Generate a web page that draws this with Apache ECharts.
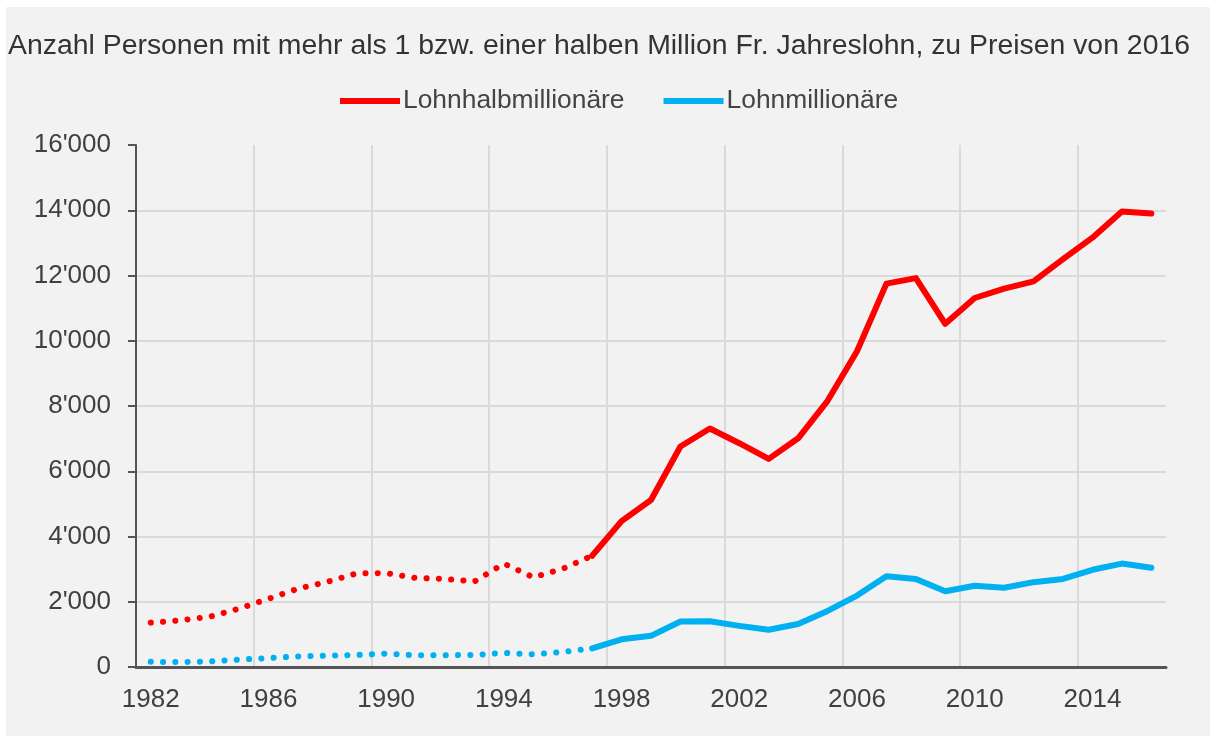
<!DOCTYPE html>
<html>
<head>
<meta charset="utf-8">
<script src="https://cdn.jsdelivr.net/npm/echarts@6/dist/echarts.min.js"></script>
<style>
    html, body { margin: 0; padding: 0; background: #ffffff; }
    #chart { position: absolute; left: 6px; top: 7px; width: 1204px; height: 729px; background: #f2f2f2; }
</style>
</head>
<body>
<div id="chart"></div>
<script>
// Jahre (Kategorien)
var years = ['1982','1983','1984','1985','1986','1987','1988','1989','1990','1991','1992','1993',
    '1994','1995','1996','1997','1998','1999','2000','2001','2002','2003','2004','2005',
    '2006','2007','2008','2009','2010','2011','2012','2013','2014','2015','2016'];

// Lohnhalbmillionäre
var halbMio = [1360, 1430, 1540, 1790, 2090, 2400, 2610, 2870, 2880, 2730, 2700, 2620,
    3170, 2750, 3010, 3410, 4470, 5120, 6760, 7310, 6860, 6380, 7010, 8160,
    9680, 11750, 11920, 10520, 11310, 11600, 11820, 12500, 13160, 13960, 13900];

// Lohnmillionäre
var mio = [160, 150, 170, 225, 275, 325, 345, 370, 410, 360, 360, 370,
    430, 390, 460, 570, 850, 955, 1395, 1400, 1260, 1140, 1320, 1720,
    2190, 2780, 2700, 2320, 2490, 2430, 2600, 2700, 2980, 3170, 3040];

// bis und mit diesem Jahr gepunktet
var dottedUntil = '1997';

var legendNames = ['Lohnhalbmillionäre', 'Lohnmillionäre'];
var yTicks = [0, 2000, 4000, 6000, 8000, 10000, 12000, 14000, 16000];

var cut = years.indexOf(dottedUntil);
function part(arr, dotted) {
    return arr.map(function (v, i) {
        if (dotted) return i <= cut ? v : null;
        return i >= cut ? v : null;
    });
}
function fmt(v) {
    return String(v).replace(/\B(?=(\d{3})+(?!\d))/g, "'");
}

var myChart = echarts.init(document.getElementById('chart'));
var font = 'Liberation Sans';
var red = '#ff0000', blue = '#00b0f0';

function line(name, data, color, dotted) {
    return {
        name: name,
        type: 'line',
        data: data,
        symbol: 'none',
        connectNulls: false,
        color: color,
        lineStyle: {
            color: color,
            width: 6,
            type: dotted ? [0.1, 12.2] : 'solid',
            cap: 'round',
            join: 'round'
        },
        z: dotted ? 2 : 3
    };
}

option = {
    backgroundColor: '#f2f2f2',
    animation: false,
    title: {
        text: 'Anzahl Personen mit mehr als 1 bzw. einer halben Million Fr. Jahreslohn, zu Preisen von 2016',
        left: 2,
        top: 25,
        padding: 0,
        textStyle: { fontFamily: font, fontSize: 28.4, fontWeight: 'normal', color: '#333333' }
    },
    legend: {
        data: legendNames,
        top: 81,
        left: 334,
        padding: 0,
        icon: 'rect',
        itemWidth: 60,
        itemHeight: 6,
        itemGap: 39,
        textStyle: { fontFamily: font, fontSize: 26.4, color: '#444444', padding: [0, 0, 0, -2] }
    },
    grid: { left: 130, right: 44, top: 138, bottom: 69, containLabel: false },
    xAxis: {
        type: 'category',
        data: years,
        boundaryGap: true,
        axisLine: { lineStyle: { color: '#555555', width: 3 } },
        axisTick: { show: false },
        axisLabel: { interval: 3, margin: 20, fontFamily: font, fontSize: 26, color: '#404040' },
        splitLine: {
            show: true,
            interval: 3,
            showMinLine: false,
            showMaxLine: false,
            lineStyle: { color: '#dadada', width: 2 }
        }
    },
    yAxis: {
        type: 'value',
        min: yTicks[0],
        max: yTicks[yTicks.length - 1],
        interval: 2000,
        axisLine: { show: true, lineStyle: { color: '#555555', width: 2 } },
        axisTick: { show: true, length: 8, lineStyle: { color: '#555555', width: 2 } },
        axisLabel: { margin: 25, fontFamily: font, fontSize: 26, color: '#404040', formatter: fmt },
        splitLine: {
            showMinLine: false,
            showMaxLine: false,
            lineStyle: { color: '#dadada', width: 2 }
        }
    },
    series: [
        line(legendNames[0], part(halbMio, false), red, false),
        line(legendNames[1], part(mio, false), blue, false),
        line(legendNames[0], part(halbMio, true), red, true),
        line(legendNames[1], part(mio, true), blue, true)
    ]
};

myChart.setOption(option);
</script>
</body>
</html>
